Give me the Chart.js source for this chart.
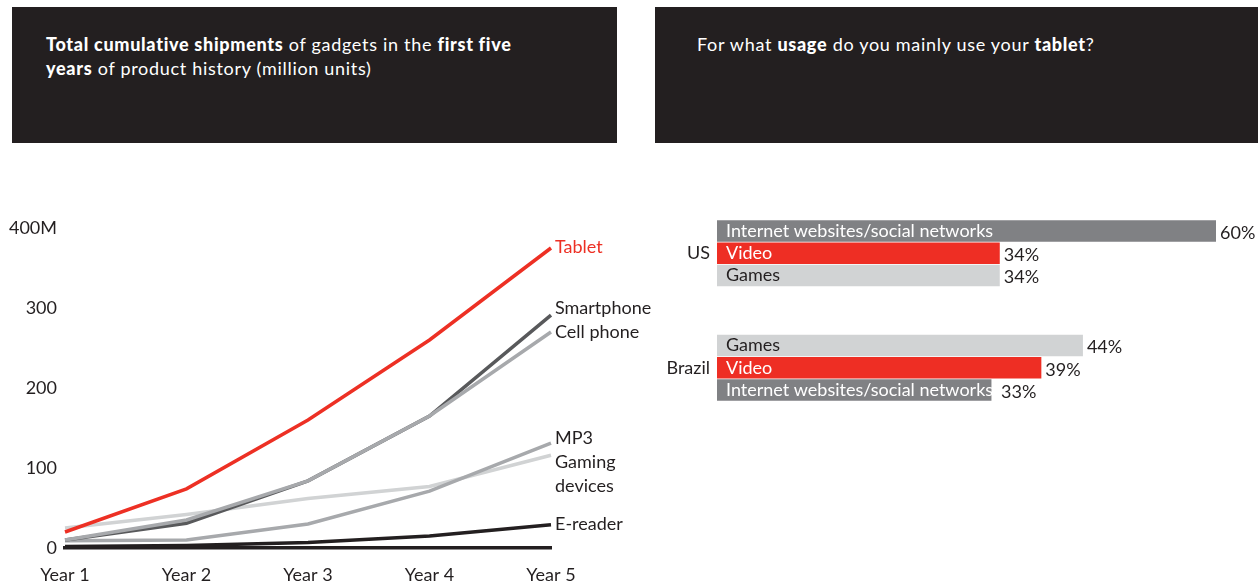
<!DOCTYPE html>
<html>
<head>
<meta charset="utf-8">
<script src="https://cdn.jsdelivr.net/npm/chart.js@4"></script>
<style>
  html, body { margin:0; padding:0; background:#fff; width:1258px; height:588px; overflow:hidden; font-family:Lato, sans-serif; }
  .box { position:absolute; top:7px; height:136px; background:#231f20; color:#fff; font-size:18px; line-height:24px; letter-spacing:0.7px; }
  .box b { font-weight:900; }
  #t1 { left:12px; width:605px; }
  #t2 { left:655px; width:603px; }
  #t1 div { position:absolute; left:34px; top:25px; width:505px; }
  #t2 div { position:absolute; left:42px; top:25px; width:540px; }
  canvas { position:absolute; }
</style>
</head>
<body>
<div class="box" id="t1"><div><b>Total cumulative shipments</b> of gadgets in the <b>first five years</b> of product history (million units)</div></div>
<div class="box" id="t2"><div>For what <b>usage</b> do you mainly use your <b>tablet</b>?</div></div>
<canvas id="lineChart" width="660" height="388" style="left:0;top:200px;"></canvas>
<canvas id="barChart" width="618" height="300" style="left:640px;top:150px;"></canvas>
<script>
// ---------- Data: left chart ----------
const years = ['Year 1', 'Year 2', 'Year 3', 'Year 4', 'Year 5'];
const tablet     = [20, 74, 160, 260, 375];
const smartphone = [10, 31, 84, 165, 291];
const cellPhone  = [10, 35, 84, 165, 270];
const mp3        = [9, 10, 30, 71, 131];
const gaming     = [25, 42, 62, 77, 116];
const eReader    = [2, 3, 7, 15, 29];
const yTicks     = [0, 100, 200, 300, 400];

// ---------- Data: right chart ----------
const countries    = ['US', 'Brazil'];
const usUsage      = ['Internet websites/social networks', 'Video', 'Games'];
const usShares     = [60, 34, 34];
const brazilUsage  = ['Games', 'Video', 'Internet websites/social networks'];
const brazilShares = [44, 39, 33];

Chart.defaults.font.family = 'Lato, sans-serif';
Chart.defaults.font.size = 18;
Chart.defaults.color = '#231f20';

const lineSeries = [
  { label: 'Tablet',     data: tablet,     color: '#ed3024', text: ['Tablet'],             dy: [-1],    textColor: '#ed3024' },
  { label: 'Cell phone', data: cellPhone,  color: '#a7a9ac', text: ['Cell phone'],         dy: [0] },
  { label: 'Smartphone', data: smartphone, color: '#58595b', text: ['Smartphone'],         dy: [-7] },
  { label: 'MP3',        data: mp3,        color: '#a7a9ac', text: ['MP3'],                dy: [-5] },
  { label: 'Gaming devices', data: gaming, color: '#d1d3d4', text: ['Gaming', 'devices'],  dy: [7, 31] },
  { label: 'E-reader',   data: eReader,    color: '#231f20', text: ['E-reader'],           dy: [-1] }
];

const endLabels = {
  id: 'endLabels',
  afterDatasetsDraw(chart) {
    const ctx = chart.ctx;
    ctx.save();
    ctx.font = '18px Lato, sans-serif';
    ctx.textBaseline = 'middle';
    ctx.textAlign = 'left';
    lineSeries.forEach((s, i) => {
      const pt = chart.getDatasetMeta(i).data[s.data.length - 1];
      ctx.fillStyle = s.textColor || '#231f20';
      s.text.forEach((t, k) => ctx.fillText(t, pt.x + 4, pt.y + s.dy[k]));
    });
    ctx.restore();
  }
};

new Chart(document.getElementById('lineChart'), {
  type: 'line',
  data: {
    labels: years,
    datasets: lineSeries.map((s, i) => ({
      label: s.label, data: s.data, borderColor: s.color, backgroundColor: s.color,
      borderWidth: 3.5, pointRadius: 0, tension: 0, fill: false, order: i,
      borderCapStyle: 'butt', borderJoinStyle: 'miter'
    }))
  },
  options: {
    responsive: false, animation: false,
    layout: { padding: { top: 28, right: 109, bottom: 0, left: 0 } },
    plugins: { legend: { display: false }, tooltip: { enabled: false } },
    scales: {
      x: {
        offset: false,
        grid: { display: false, drawTicks: false },
        border: { display: true, color: '#231f20', width: 3.5 },
        ticks: { padding: 16, maxRotation: 0, color: '#231f20' },
        afterFit(s) { s.height = 40; }
      },
      y: {
        min: 0, max: 400,
        afterBuildTicks(s) { s.ticks = yTicks.map(v => ({ value: v })); },
        grid: { display: false, drawTicks: false },
        border: { display: false },
        ticks: { padding: 8, color: '#231f20', callback: v => v === 400 ? '400M' : String(v) },
        afterFit(s) { s.width = 65; }
      }
    }
  },
  plugins: [endLabels]
});

// ---------- Right chart ----------
const usageColor = {
  'Internet websites/social networks': '#808184',
  'Video': '#ee2e24',
  'Games': '#d1d3d4'
};
const usageText = {
  'Internet websites/social networks': '#ffffff',
  'Video': '#ffffff',
  'Games': '#231f20'
};
const groups = [usUsage.map((u, i) => ({ u, v: usShares[i] })), brazilUsage.map((u, i) => ({ u, v: brazilShares[i] }))];
const barDatasets = [0, 1, 2].map(rank => ({
  label: 'Rank ' + (rank + 1),
  data: groups.map(g => g[rank].v),
  names: groups.map(g => g[rank].u),
  backgroundColor: groups.map(g => usageColor[g[rank].u]),
  borderWidth: 0,
  categoryPercentage: 0.585,
  barPercentage: 0.96
}));

const barLabels = {
  id: 'barLabels',
  afterDatasetsDraw(chart) {
    const ctx = chart.ctx;
    ctx.save();
    ctx.font = '18px Lato, sans-serif';
    ctx.textBaseline = 'middle';
    chart.data.datasets.forEach((ds, i) => {
      chart.getDatasetMeta(i).data.forEach((bar, j) => {
        ctx.textAlign = 'left';
        ctx.fillStyle = usageText[ds.names[j]];
        const nameEnd = bar.base + 9 + ctx.measureText(ds.names[j]).width;
        ctx.fillText(ds.names[j], bar.base + 9, bar.y);
        ctx.fillStyle = '#231f20';
        const vx = Math.max(bar.x + 4, nameEnd + 8);
        ctx.fillText(ds.data[j] + '%', vx, bar.y + 2);
      });
    });
    ctx.restore();
  }
};

new Chart(document.getElementById('barChart'), {
  type: 'bar',
  data: { labels: countries, datasets: barDatasets },
  options: {
    indexAxis: 'y',
    responsive: false, animation: false,
    layout: { padding: { top: 46, right: 42, bottom: 25, left: 0 } },
    plugins: { legend: { display: false }, tooltip: { enabled: false } },
    scales: {
      x: { display: false, min: 0, max: 60 },
      y: {
        grid: { display: false, drawTicks: false },
        border: { display: false },
        ticks: { padding: 7, color: '#231f20' },
        afterFit(s) { s.width = 77; }
      }
    }
  },
  plugins: [barLabels]
});
</script>
</body>
</html>
